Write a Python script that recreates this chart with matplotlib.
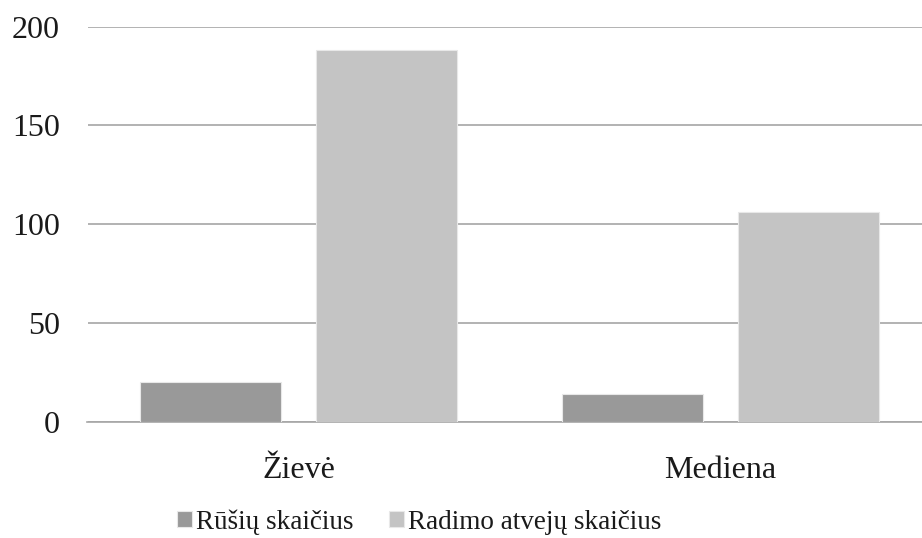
import matplotlib
matplotlib.use("Agg")
import matplotlib.pyplot as plt
import numpy as np

categories = ["Žievė", "Mediena"]
species_count = [20, 14]
finds_count = [188, 106]
series_labels = ["Rūšių skaičius", "Radimo atvejų skaičius"]
y_ticks = [0, 50, 100, 150, 200]

plt.rcParams["font.family"] = ["Liberation Serif", "DejaVu Serif"]

fig = plt.figure(figsize=(9.22, 5.38), dpi=100)
ax = fig.add_axes([87.5 / 922, 0.2162, 844 / 922, 0.7342])

x = np.arange(len(categories))
w = 0.334
off = 0.209
ax.bar(x - off, species_count, w, color="#999999", edgecolor="#e8e8e8",
       linewidth=0.8, label=series_labels[0], zorder=3)
ax.bar(x + off, finds_count, w, color="#c4c4c4", edgecolor="#e8e8e8",
       linewidth=0.8, label=series_labels[1], zorder=3)

ax.set_xlim(-0.5, 1.5)
ax.set_ylim(0, 200)
ax.set_yticks(y_ticks)
ax.set_xticks(x)
ax.set_xticklabels(categories)
ax.yaxis.grid(True, color="#a6a6a6", linewidth=1.2, zorder=0)
ax.set_axisbelow(True)
for s in ["left", "right", "top"]:
    ax.spines[s].set_visible(False)
ax.spines["bottom"].set_color("#a6a6a6")
ax.spines["bottom"].set_linewidth(1.2)
ax.tick_params(axis="both", length=0, labelsize=23, colors="#1a1a1a")
ax.tick_params(axis="y", pad=20)
ax.tick_params(axis="x", pad=25)

leg = fig.legend(loc="center", bbox_to_anchor=(0.455, 0.03), ncol=2,
                 frameon=False, fontsize=19.5, handlelength=0.56, handleheight=0.56,
                 handletextpad=0.15, columnspacing=1.3)
for t in leg.get_texts():
    t.set_color("#1a1a1a")

fig.savefig("out.png", dpi=100)
